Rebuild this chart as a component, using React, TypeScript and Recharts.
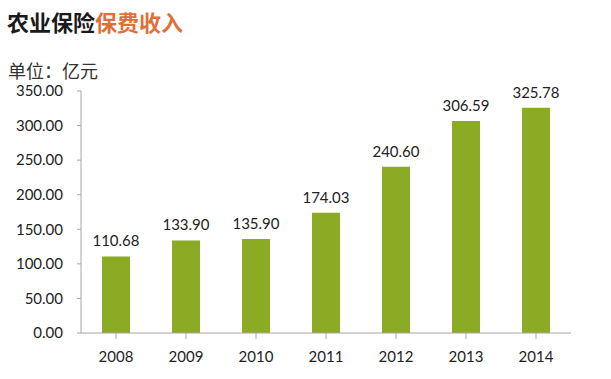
import React from 'react';
import { BarChart, Bar, XAxis, YAxis, LabelList } from 'recharts';

const years = ['2008', '2009', '2010', '2011', '2012', '2013', '2014'];
const income = [110.68, 133.9, 135.9, 174.03, 240.6, 306.59, 325.78];
const yTicks = [0, 50, 100, 150, 200, 250, 300, 350];

const data = years.map((year, i) => ({ year, value: income[i] }));

const FONT = 'Lato, "Open Sans", sans-serif';

export default function App() {
  return (
    <div style={{ position: 'absolute', left: 0, top: 0, width: 611, height: 379, background: '#fff', fontFamily: FONT }}>
      <div style={{ position: 'absolute', left: 7, top: 6, fontFamily: '"Noto Sans CJK SC", sans-serif', fontSize: 22, fontWeight: 700, lineHeight: '30px', whiteSpace: 'nowrap' }}>
        <span style={{ color: '#1a1a1a' }}>农业保险</span>
        <span style={{ color: '#e0703a' }}>保费收入</span>
      </div>
      <div style={{ position: 'absolute', left: 8, top: 57, fontFamily: '"Noto Sans CJK SC", sans-serif', fontSize: 18, color: '#333', lineHeight: '26px', whiteSpace: 'nowrap' }}>
        单位：亿元
      </div>
      <BarChart
        width={611}
        height={379}
        data={data}
        margin={{ top: 91, right: 40, bottom: 0, left: 0 }}
        barCategoryGap="30%"
      >
        <XAxis
          dataKey="year"
          height={46}
          axisLine={{ stroke: '#a6a6a6' }}
          tickLine={{ stroke: '#a6a6a6' }}
          tickSize={6}
          tick={{ fill: '#222', fontSize: 15, fontFamily: FONT }}
          tickMargin={12}
        />
        <YAxis
          width={81}
          domain={[0, 350]}
          ticks={yTicks}
          interval={0}
          axisLine={{ stroke: '#a6a6a6' }}
          tickLine={{ stroke: '#a6a6a6' }}
          tickSize={4}
          tickMargin={14}
          tickFormatter={(v: number) => v.toFixed(2)}
          tick={{ fill: '#222', fontSize: 15, fontFamily: FONT }}
        />
        <Bar dataKey="value" fill="#8aab23" isAnimationActive={false}>
          <LabelList
            dataKey="value"
            position="top"
            offset={10}
            formatter={(v: any) => Number(v).toFixed(2)}
            style={{ fill: '#222', fontSize: 15, fontFamily: FONT }}
          />
        </Bar>
      </BarChart>
    </div>
  );
}
